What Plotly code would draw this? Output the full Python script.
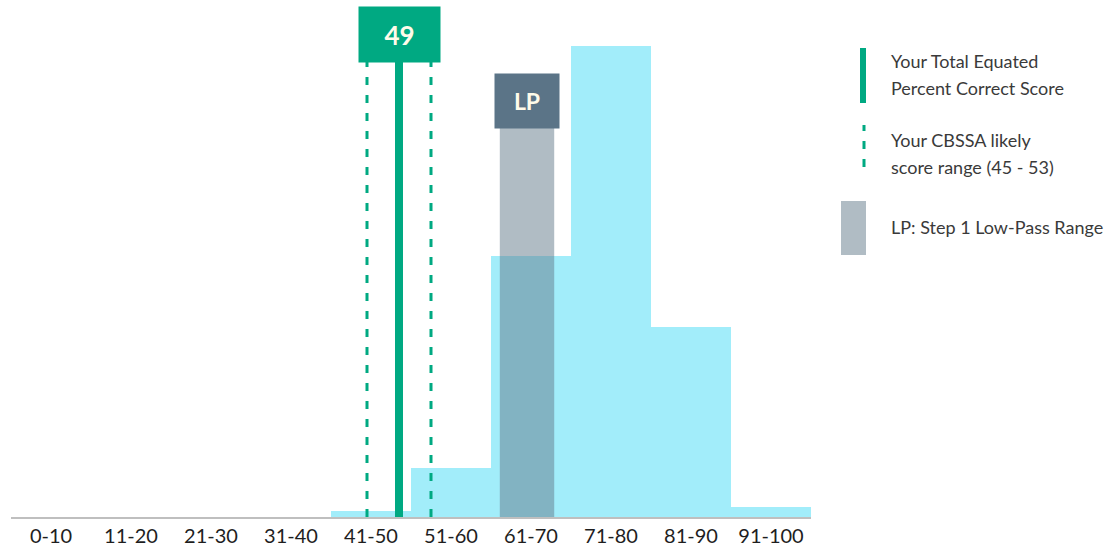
import plotly.graph_objects as go

# Score distribution by percent-correct bin
bin_labels = ["0-10", "11-20", "21-30", "31-40", "41-50",
              "51-60", "61-70", "71-80", "81-90", "91-100"]
bin_centers = [5.5, 15.5, 25.5, 35.5, 45.5, 55.5, 65.5, 75.5, 85.5, 95.5]
bin_share = [0, 0, 0, 0, 0.6, 5.0, 26.4, 47.7, 19.3, 1.0]

# Examinee score and likely range
your_score = 49
score_range = [45, 53]

# Step 1 low-pass range
lp_range = [61.6, 68.4]

GREEN = "#00a982"
CYAN = "#a2edfa"
LP_DARK = "#5b7487"
TEXT = "#3a3a3a"
FONT = "Lato"
DASH = "8px,10px"

PLOT_H = 517  # plot-area height in px, used to place paper-referenced items


def py(px):
    """Convert a pixel offset from the top into paper y."""
    return (PLOT_H - px) / PLOT_H


fig = go.Figure()

fig.add_trace(go.Bar(
    x=bin_centers, y=bin_share, width=9.9,
    marker=dict(color=CYAN, line=dict(width=0)),
    hoverinfo="skip", showlegend=False,
))

shapes = []
# low-pass band, translucent over the bars
shapes.append(dict(type="rect", xref="x", yref="paper",
                   x0=lp_range[0], x1=lp_range[1], y0=0, y1=py(128),
                   fillcolor="rgba(97,121,137,0.5)", line=dict(width=0),
                   layer="above"))
# likely score range (dashed)
for s in score_range:
    shapes.append(dict(type="line", xref="x", yref="paper",
                       x0=s, x1=s, y0=0, y1=py(62),
                       line=dict(color=GREEN, width=3, dash=DASH),
                       layer="above"))
# total score (solid)
shapes.append(dict(type="line", xref="x", yref="paper",
                   x0=your_score, x1=your_score, y0=0, y1=py(40),
                   line=dict(color=GREEN, width=8), layer="above"))

# legend swatches
shapes.append(dict(type="rect", xref="paper", yref="paper",
                   x0=(860 - 11) / 800, x1=(866 - 11) / 800, y0=py(103), y1=py(48),
                   fillcolor=GREEN, line=dict(width=0)))
shapes.append(dict(type="line", xref="paper", yref="paper",
                   x0=(864 - 11) / 800, x1=(864 - 11) / 800, y0=py(167), y1=py(125),
                   line=dict(color=GREEN, width=3, dash=DASH)))
shapes.append(dict(type="rect", xref="paper", yref="paper",
                   x0=(841 - 11) / 800, x1=(866 - 11) / 800, y0=py(255), y1=py(201),
                   fillcolor="#b0bcc4", line=dict(width=0)))

annotations = [
    dict(x=your_score, xref="x", y=py(34.5), yref="paper",
         text="<b>%d</b>" % your_score, showarrow=False,
         font=dict(family=FONT, size=26, color="#fffbea"),
         bgcolor=GREEN, width=81, height=55, borderpad=0,
         xanchor="center", yanchor="middle"),
    dict(x=sum(lp_range) / 2, xref="x", y=py(101), yref="paper",
         text="<b>LP</b>", showarrow=False,
         font=dict(family=FONT, size=23, color="#fffbea"),
         bgcolor=LP_DARK, width=64, height=54, borderpad=0,
         xanchor="center", yanchor="middle"),
]

legend_lines = [
    ("Your Total Equated", 61),
    ("Percent Correct Score", 88),
    ("Your CBSSA likely", 140),
    ("score range (%d - %d)" % tuple(score_range), 167),
    ("LP: Step 1 Low-Pass Range", 227),
]
for txt, ypx in legend_lines:
    annotations.append(dict(
        x=(889 - 11) / 800, xref="paper", y=py(ypx), yref="paper",
        text=txt, showarrow=False, align="left",
        xanchor="left", yanchor="middle",
        font=dict(family=FONT, size=18, color=TEXT)))

fig.update_layout(
    width=1110, height=546,
    margin=dict(l=11, r=299, t=0, b=29),
    paper_bgcolor="white", plot_bgcolor="white",
    bargap=0, shapes=shapes, annotations=annotations,
    xaxis=dict(range=[0.5, 100.5], tickvals=bin_centers, ticktext=bin_labels,
               showgrid=False, zeroline=False, showline=True,
               linecolor="#bfbfbf", linewidth=2, ticks="",
               tickfont=dict(family=FONT, size=20, color="#1e1e1e")),
    yaxis=dict(range=[0, PLOT_H / 9.87], visible=False,
               showgrid=False, zeroline=False),
)

fig.write_html("out.html")
